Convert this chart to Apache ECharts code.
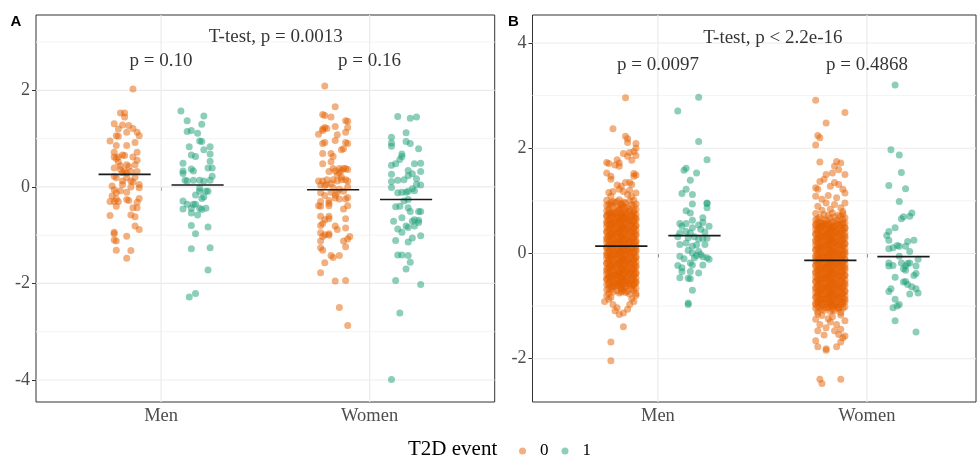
<!DOCTYPE html>
<html><head><meta charset="utf-8">
<script src="https://cdn.jsdelivr.net/npm/echarts@6/dist/echarts.min.js"></script>
<style>html,body{margin:0;padding:0;background:#fff}#c{width:977px;height:457px}</style>
</head><body><div id="c"></div>
<script>
const categories = ['Men', 'Women'];
const groups = ['0', '1'];
const yTicksA = [-4, -2, 0, 2];
const yMinorA = [-3, -1, 1, 3];
const yTicksB = [-2, 0, 2, 4];
const yMinorB = [-1, 1, 3];
const globalTests = ['T-test, p = 0.0013', 'T-test, p < 2.2e-16'];
const pairTestsA = ['p = 0.10', 'p = 0.16'];
const pairTestsB = ['p = 0.0097', 'p = 0.4868'];
const legendTitle = 'T2D event';
const panelTags = ['A', 'B'];
// group means (black bars): [Men, Women]
const meanA0 = [0.26, -0.06];
const meanA1 = [0.04, -0.26];
const meanB0 = [0.14, -0.13];
const meanB1 = [0.34, -0.06];
// points: [jitter in 1/100 category unit, value]
const aMen0 = [[4,2.03],[-2,1.53],[0,1.53],[0,1.45],[-5,1.31],[-1,1.28],[2,1.27],[-3,1.2],[4,1.21],[-4,1.06],[-3,1.05],[1,1.13],[6,1.13],[7,1.06],[-7,0.95],[5,0.92],[-4,0.86],[1,0.86],[-5,0.72],[6,0.72],[-5,0.62],[-4,0.59],[-1,0.66],[0,0.65],[4,0.62],[-3,0.51],[1,0.46],[5,0.46],[6,0.55],[-5,0.39],[-2,0.36],[0,0.33],[3,0.32],[6,0.32],[-5,0.22],[-4,0.19],[-1,0.3],[1,0.29],[1,0.19],[3,0.12],[4,0.1],[7,0.05],[7,-0.02],[-1,0.05],[-5,-0.06],[-4,-0.12],[-2,-0.08],[1,-0.11],[-6,-0.19],[-4,-0.25],[7,-0.24],[-7,-0.3],[-5,-0.3],[-3,-0.3],[1,-0.26],[2,-0.28],[6,-0.32],[-4,-0.4],[4,-0.43],[6,-0.43],[-7,-0.59],[3,-0.58],[5,-0.62],[5,-0.81],[7,-0.88],[-5,-0.94],[-5,-0.97],[1,-1.02],[-5,-1.1],[-4,-1.12],[-4,-1.31],[3,-1.32],[1,-1.48],[-3,0.62],[-2,0.44],[2,0.42],[-6,0.02],[-1,0.12],[3,0.0],[5,0.2]];
const aMen1 = [[-8,1.57],[3,1.47],[-5,1.37],[2,1.3],[-5,1.15],[-3,1.17],[0,1.11],[1,0.95],[2,0.94],[-4,0.83],[6,0.83],[3,0.77],[-3,0.66],[-1,0.63],[6,0.68],[-7,0.49],[6,0.53],[-7,0.33],[-3,0.37],[-2,0.33],[5,0.39],[7,0.39],[-7,0.28],[7,0.22],[-6,0.14],[-5,0.12],[-2,0.14],[1,0.14],[3,0.12],[6,0.14],[1,-0.03],[1,-0.09],[4,-0.09],[5,-0.09],[-1,-0.17],[2,-0.24],[3,-0.21],[-7,-0.29],[-5,-0.36],[-2,-0.36],[-1,-0.36],[-7,-0.46],[-3,-0.44],[1,-0.44],[2,-0.47],[4,-0.44],[-3,-0.54],[0,-0.58],[-3,-0.8],[5,-0.83],[-1,-0.97],[-3,-1.28],[6,-1.26],[5,-1.72],[-4,-2.28],[-1,-2.21]];
const aWomen0 = [[-4,2.09],[1,1.66],[-5,1.5],[-1,1.45],[-4,1.48],[6,1.37],[7,1.36],[-5,1.2],[-4,1.23],[-3,1.21],[1,1.25],[7,1.23],[-7,1.09],[-5,1.17],[2,1.08],[6,1.13],[-5,0.9],[-4,0.92],[1,0.96],[6,0.92],[7,0.9],[5,0.79],[4,0.77],[-5,0.69],[-1,0.69],[0,0.63],[-1,0.52],[-5,0.48],[3,0.38],[5,0.38],[6,0.38],[0,0.38],[7,0.36],[-2,0.32],[1,0.33],[3,0.3],[4,0.34],[-7,0.12],[-5,0.12],[-3,0.15],[0,0.15],[2,0.12],[4,0.15],[6,0.15],[7,0.12],[-6,0.04],[-4,0.03],[-1,0.07],[7,0.0],[-6,-0.12],[-1,-0.11],[2,-0.11],[5,-0.09],[1,-0.23],[3,-0.25],[6,-0.25],[7,-0.22],[-6,-0.3],[-2,-0.28],[-7,-0.39],[-6,-0.4],[-2,-0.34],[-2,-0.39],[5,-0.46],[7,-0.39],[-6,-0.61],[-2,-0.61],[6,-0.66],[-4,-0.68],[-2,-0.66],[-6,-0.8],[-5,-0.76],[1,-0.81],[2,-0.88],[6,-0.85],[-6,-0.95],[-2,-0.97],[-4,-0.99],[8,-1.03],[7,-1.08],[-5,-1.03],[-2,-1.0],[-6,-1.12],[5,-1.12],[6,-1.24],[-6,-1.26],[-5,-1.31],[-1,-1.42],[0,-1.46],[3,-1.42],[-4,-1.57],[-6,-1.78],[1,-1.95],[6,-1.94],[3,-2.5],[7,-2.87],[2,0.25],[4,0.2],[-3,0.05],[0,-0.02],[3,-0.05],[-4,-0.18],[1,-0.17]];
const aWomen1 = [[-4,1.46],[2,1.42],[5,1.45],[0,1.12],[-7,1.03],[-7,0.91],[-7,0.84],[0,0.94],[2,0.9],[6,0.79],[-2,0.68],[-2,0.63],[-3,0.57],[-7,0.45],[-5,0.48],[4,0.48],[7,0.49],[1,0.34],[7,0.32],[-7,0.26],[1,0.23],[3,0.27],[5,0.17],[-7,0.11],[-4,0.14],[-1,0.15],[7,0.04],[5,0.05],[-7,-0.01],[3,-0.04],[4,-0.08],[-4,-0.12],[-2,-0.11],[0,-0.11],[1,-0.09],[-1,-0.29],[1,-0.26],[-5,-0.41],[-3,-0.4],[1,-0.43],[2,-0.51],[7,-0.51],[6,-0.51],[-6,-0.71],[-2,-0.64],[3,-0.71],[4,-0.68],[6,-0.69],[6,-0.74],[-4,-0.87],[1,-0.84],[4,-0.81],[0,-0.81],[-2,-0.94],[3,-1.06],[7,-1.01],[-5,-1.11],[1,-1.14],[-4,-1.41],[-2,-1.41],[1,-1.42],[2,-1.56],[0,-1.7],[-5,-1.94],[7,-2.02],[-3,-2.61],[-7,-3.99]];
const bMen0 = [
[2,2.96],[-4,2.37],[2,2.23],[3,2.18],[3,2.11],[7,2.09],[7,2.0],[6,1.94],[4,1.92],[1,1.9],[3,1.85],[7,1.86],[5,1.77],[-7,1.73],[-6,1.71],[-3,1.68],[-2,1.78],[-1,1.72],[-1,1.66],[-7,1.53],[-5,1.47],[-5,1.41],[6,1.52],[7,1.49],[6,1.47],[2,1.35],[4,1.35],[5,1.31],[-2,1.3],[0,1.28],[-6,1.16],[-4,1.18],[-1,1.22],[1,1.18],[4,1.2],[7,1.15],[-5,1.09],[3,1.12],[5,1.08],
[-8,-0.91],[-6,-0.87],[-4,-0.97],[-2,-1.03],[1,-1.13],[4,-0.97],[6,-0.91],[-3,-1.09],[-1,-1.16],[3,-1.06],[-7,-0.8],[7,-0.8],[-5,-0.83],[5,-0.86],[1,-1.39],[-5,-1.68],[-5,-2.04],
[-7,1.01],[-4,0.99],[-1,1.02],[1,0.98],[4,1.0],[6,1.01],[-2,0.99],
[-6,0.94],[-3,0.97],[0,0.95],[2,0.96],[5,0.93],[7,0.94],[-5,0.97],
[-5,0.91],[-2,0.89],[0,0.92],[3,0.88],[6,0.9],[-7,0.91],[1,0.89],
[-6,0.84],[-4,0.87],[-1,0.85],[2,0.86],[4,0.83],[7,0.84],[0,0.87],
[-7,0.81],[-4,0.79],[-1,0.82],[1,0.78],[4,0.8],[6,0.81],[-2,0.79],
[-6,0.74],[-3,0.77],[0,0.75],[2,0.76],[5,0.73],[7,0.74],[-5,0.77],
[-5,0.71],[-2,0.69],[0,0.72],[3,0.68],[6,0.7],[-7,0.71],[1,0.69],
[-6,0.64],[-4,0.67],[-1,0.65],[2,0.66],[4,0.63],[7,0.64],[0,0.67],
[-7,0.61],[-4,0.59],[-1,0.62],[1,0.58],[4,0.6],[6,0.61],[-2,0.59],
[-6,0.54],[-3,0.57],[0,0.55],[2,0.56],[5,0.53],[7,0.54],[-5,0.57],
[-5,0.51],[-2,0.49],[0,0.52],[3,0.48],[6,0.5],[-7,0.51],[1,0.49],
[-6,0.44],[-4,0.47],[-1,0.45],[2,0.46],[4,0.43],[7,0.44],[0,0.47],
[-7,0.41],[-4,0.39],[-1,0.42],[1,0.38],[4,0.4],[6,0.41],[-2,0.39],
[-6,0.34],[-3,0.37],[0,0.35],[2,0.36],[5,0.33],[7,0.34],[-5,0.37],
[-5,0.31],[-2,0.29],[0,0.32],[3,0.28],[6,0.3],[-7,0.31],[1,0.29],
[-6,0.24],[-4,0.27],[-1,0.25],[2,0.26],[4,0.23],[7,0.24],[0,0.27],
[-7,0.21],[-4,0.19],[-1,0.22],[1,0.18],[4,0.2],[6,0.21],[-2,0.19],
[-6,0.14],[-3,0.17],[0,0.15],[2,0.16],[5,0.13],[7,0.14],[-5,0.17],
[-5,0.11],[-2,0.09],[0,0.12],[3,0.08],[6,0.1],[-7,0.11],[1,0.09],
[-6,0.04],[-4,0.07],[-1,0.05],[2,0.06],[4,0.03],[7,0.04],[0,0.07],
[-7,0.01],[-4,-0.01],[-1,0.02],[1,-0.02],[4,0.0],[6,0.01],[-2,-0.01],
[-6,-0.06],[-3,-0.03],[0,-0.05],[2,-0.04],[5,-0.07],[7,-0.06],[-5,-0.03],
[-5,-0.09],[-2,-0.11],[0,-0.08],[3,-0.12],[6,-0.1],[-7,-0.09],[1,-0.11],
[-6,-0.16],[-4,-0.13],[-1,-0.15],[2,-0.14],[4,-0.17],[7,-0.16],[0,-0.13],
[-7,-0.19],[-4,-0.21],[-1,-0.18],[1,-0.22],[4,-0.2],[6,-0.19],[-2,-0.21],
[-6,-0.26],[-3,-0.23],[0,-0.25],[2,-0.24],[5,-0.27],[7,-0.26],[-5,-0.23],
[-5,-0.29],[-2,-0.31],[0,-0.28],[3,-0.32],[6,-0.3],[-7,-0.29],[1,-0.31],
[-6,-0.36],[-4,-0.33],[-1,-0.35],[2,-0.34],[4,-0.37],[7,-0.36],[0,-0.33],
[-7,-0.39],[-4,-0.41],[-1,-0.38],[1,-0.42],[4,-0.4],[6,-0.39],[-2,-0.41],
[-6,-0.46],[-3,-0.43],[0,-0.45],[2,-0.44],[5,-0.47],[7,-0.46],[-5,-0.43],
[-5,-0.49],[-2,-0.51],[0,-0.48],[3,-0.52],[6,-0.5],[-7,-0.49],[1,-0.51],
[-6,-0.56],[-4,-0.53],[-1,-0.55],[2,-0.54],[4,-0.57],[7,-0.56],[0,-0.53],
[-7,-0.59],[-4,-0.61],[-1,-0.58],[1,-0.62],[4,-0.6],[6,-0.59],[-2,-0.61],
[-6,-0.66],[-3,-0.63],[0,-0.65],[2,-0.64],[5,-0.67],[7,-0.66],[-5,-0.63],
[-5,-0.69],[-2,-0.71],[0,-0.68],[3,-0.72],[6,-0.7],[-7,-0.69],[1,-0.71],
[-6,-0.76],[-4,-0.73],[-1,-0.75],[2,-0.74],[4,-0.77],[7,-0.76],[0,-0.73],
[-6,0.78],[-3,0.76],[0,0.77],[3,0.79],[6,0.77],[-7,0.72],[-4,0.73],[-1,0.71],[2,0.73],[5,0.72],
[-5,0.67],[-2,0.68],[1,0.66],[4,0.68],[7,0.67],[-6,0.62],[-3,0.63],[0,0.61],[3,0.63],[6,0.62],
[-7,0.57],[-4,0.58],[-1,0.56],[2,0.58],[5,0.57],[-5,0.52],[-2,0.53],[1,0.51],[4,0.53],[7,0.52],
[-6,0.47],[-3,0.48],[0,0.46],[3,0.48],[6,0.47],[-7,0.42],[-4,0.43],[-1,0.41],[2,0.43],[5,0.42],
[-5,0.37],[-2,0.38],[1,0.36],[4,0.38],[7,0.37],[-6,0.32],[-3,0.33],[0,0.31],[3,0.33],[6,0.32],
[-7,0.27],[-4,0.28],[-1,0.26],[2,0.28],[5,0.27],[-5,0.22],[-2,0.23],[1,0.21],[4,0.23],[7,0.22],
[-6,0.17],[-3,0.18],[0,0.16],[3,0.18],[6,0.17],[-7,0.12],[-4,0.13],[-1,0.11],[2,0.13],[5,0.12],
[-5,0.07],[-2,0.08],[1,0.06],[4,0.08],[7,0.07],[-6,0.02],[-3,0.03],[0,0.01],[3,0.03],[6,0.02],
[-7,-0.03],[-4,-0.02],[-1,-0.04],[2,-0.02],[5,-0.03],[-5,-0.08],[-2,-0.07],[1,-0.09],[4,-0.07],[7,-0.08],
[-6,-0.13],[-3,-0.12],[0,-0.14],[3,-0.12],[6,-0.13],[-7,-0.18],[-4,-0.17],[-1,-0.19],[2,-0.17],[5,-0.18],
[-5,-0.23],[-2,-0.22],[1,-0.24],[4,-0.22],[7,-0.23],[-6,-0.28],[-3,-0.27],[0,-0.29],[3,-0.27],[6,-0.28],
[-7,-0.33],[-4,-0.32],[-1,-0.34],[2,-0.32],[5,-0.33],[-5,-0.38],[-2,-0.37],[1,-0.39],[4,-0.37],[7,-0.38],
[-6,-0.43],[-3,-0.42],[0,-0.44],[3,-0.42],[6,-0.43],[-7,-0.48],[-4,-0.47],[-1,-0.49],[2,-0.47],[5,-0.48],
[-5,-0.53],[-2,-0.52],[1,-0.54],[4,-0.52],[7,-0.53],[-6,-0.58],[-3,-0.57],[0,-0.59],[3,-0.57],[6,-0.58],
[-4,-0.63],[-1,-0.62],[2,-0.64],[5,-0.62]];
const bMen1 = [[2,2.97],[-8,2.71],[2,2.13],[6,1.78],[-5,1.58],[-4,1.62],[1,1.53],[-2,1.39],[-6,1.14],[-4,1.22],[-1,1.12],[-1,0.94],[6,0.96],[6,0.95],[6,0.87],[-4,0.81],[-2,0.77],[4,0.68],[-1,0.63],[-7,0.57],[-6,0.52],[-4,0.57],[-1,0.49],[2,0.54],[4,0.59],[7,0.52],[-7,0.39],[-4,0.42],[-2,0.39],[3,0.46],[5,0.41],[-8,0.32],[-3,0.3],[0,0.32],[2,0.27],[4,0.29],[6,0.29],[-7,0.17],[-4,0.2],[-1,0.14],[1,0.16],[5,0.17],[-3,0.06],[-1,0.01],[2,0.04],[-7,-0.05],[-5,-0.1],[3,-0.02],[4,-0.06],[6,-0.08],[0,-0.08],[1,-0.04],[-2,-0.18],[-1,-0.22],[7,-0.11],[-8,-0.23],[-6,-0.27],[4,-0.22],[-6,-0.34],[-2,-0.34],[2,-0.37],[-7,-0.46],[-3,-0.47],[-2,-0.48],[-1,-0.7],[-3,-0.97],[-3,-0.94]];
const bWomen0 = [
[-7,2.91],[7,2.68],[-2,2.48],[-6,2.24],[-5,2.2],[-7,2.06],[-5,1.74],[3,1.75],[5,1.72],[2,1.66],[4,1.59],[1,1.53],[-2,1.5],[7,1.5],[-7,1.25],[-5,1.37],[-3,1.41],[-6,1.22],[0,1.28],[2,1.35],[4,1.31],[6,1.22],[7,1.15],[-7,1.09],[-4,1.03],[-1,1.1],[3,1.06],[7,0.96],[-6,0.9],[-2,0.96],[5,0.87],[2,0.93],[-4,0.82],[0,0.84],[6,0.8],
[-7,-1.25],[-5,-1.35],[-2,-1.41],[0,-1.3],[3,-1.35],[5,-1.44],[7,-1.28],[-6,-1.47],[2,-1.47],[4,-1.54],[6,-1.6],[7,-1.57],[-7,-1.66],[-6,-1.77],[-2,-1.81],[-2,-1.84],[3,-1.77],[5,-1.68],[-4,-1.18],[1,-1.2],[5,-1.17],[-1,-1.24],[-6,-1.15],[-3,-1.55],[-5,-2.39],[-4,-2.47],[5,-2.39],
[-7,0.76],[-3,0.74],[1,0.77],[4,0.73],[6,0.75],
[-5,0.69],[-1,0.72],[2,0.7],[5,0.71],[7,0.68],
[-6,0.66],[-3,0.64],[0,0.67],[3,0.63],[6,0.65],[-7,0.64],
[-5,0.59],[-2,0.62],[1,0.6],[4,0.61],[7,0.58],[-4,0.57],
[-7,0.56],[-4,0.54],[-1,0.57],[1,0.53],[4,0.55],[6,0.56],[-2,0.54],
[-6,0.49],[-3,0.52],[0,0.5],[2,0.51],[5,0.48],[7,0.49],[-5,0.52],
[-5,0.46],[-2,0.44],[0,0.47],[3,0.43],[6,0.45],[-7,0.46],[1,0.44],
[-6,0.39],[-4,0.42],[-1,0.4],[2,0.41],[4,0.38],[7,0.39],[0,0.42],
[-7,0.36],[-4,0.34],[-1,0.37],[1,0.33],[4,0.35],[6,0.36],[-2,0.34],
[-6,0.29],[-3,0.32],[0,0.3],[2,0.31],[5,0.28],[7,0.29],[-5,0.32],
[-5,0.26],[-2,0.24],[0,0.27],[3,0.23],[6,0.25],[-7,0.26],[1,0.24],
[-6,0.19],[-4,0.22],[-1,0.2],[2,0.21],[4,0.18],[7,0.19],[0,0.22],
[-7,0.16],[-4,0.14],[-1,0.17],[1,0.13],[4,0.15],[6,0.16],[-2,0.14],
[-6,0.09],[-3,0.12],[0,0.1],[2,0.11],[5,0.08],[7,0.09],[-5,0.12],
[-5,0.06],[-2,0.04],[0,0.07],[3,0.03],[6,0.05],[-7,0.06],[1,0.04],
[-6,-0.01],[-4,0.02],[-1,0.0],[2,0.01],[4,-0.02],[7,-0.01],[0,0.02],
[-7,-0.04],[-4,-0.06],[-1,-0.03],[1,-0.07],[4,-0.05],[6,-0.04],[-2,-0.06],
[-6,-0.11],[-3,-0.08],[0,-0.1],[2,-0.09],[5,-0.12],[7,-0.11],[-5,-0.08],
[-5,-0.14],[-2,-0.16],[0,-0.13],[3,-0.17],[6,-0.15],[-7,-0.14],[1,-0.16],
[-6,-0.21],[-4,-0.18],[-1,-0.2],[2,-0.19],[4,-0.22],[7,-0.21],[0,-0.18],
[-7,-0.24],[-4,-0.26],[-1,-0.23],[1,-0.27],[4,-0.25],[6,-0.24],[-2,-0.26],
[-6,-0.31],[-3,-0.28],[0,-0.3],[2,-0.29],[5,-0.32],[7,-0.31],[-5,-0.28],
[-5,-0.34],[-2,-0.36],[0,-0.33],[3,-0.37],[6,-0.35],[-7,-0.34],[1,-0.36],
[-6,-0.41],[-4,-0.38],[-1,-0.4],[2,-0.39],[4,-0.42],[7,-0.41],[0,-0.38],
[-7,-0.44],[-4,-0.46],[-1,-0.43],[1,-0.47],[4,-0.45],[6,-0.44],[-2,-0.46],
[-6,-0.51],[-3,-0.48],[0,-0.5],[2,-0.49],[5,-0.52],[7,-0.51],[-5,-0.48],
[-5,-0.54],[-2,-0.56],[0,-0.53],[3,-0.57],[6,-0.55],[-7,-0.54],[1,-0.56],
[-6,-0.61],[-4,-0.58],[-1,-0.6],[2,-0.59],[4,-0.62],[7,-0.61],[0,-0.58],
[-7,-0.64],[-4,-0.66],[-1,-0.63],[1,-0.67],[4,-0.65],[6,-0.64],[-2,-0.66],
[-6,-0.71],[-3,-0.68],[0,-0.7],[2,-0.69],[5,-0.72],[7,-0.71],[-5,-0.68],
[-5,-0.74],[-2,-0.76],[0,-0.73],[3,-0.77],[6,-0.75],[-7,-0.74],[1,-0.76],
[-6,-0.81],[-4,-0.78],[-1,-0.8],[2,-0.79],[4,-0.82],[7,-0.81],[0,-0.78],
[-7,-0.84],[-4,-0.86],[-1,-0.83],[1,-0.87],[4,-0.85],[6,-0.84],[-2,-0.86],
[-6,-0.91],[-3,-0.88],[0,-0.9],[2,-0.89],[5,-0.92],[7,-0.91],[-5,-0.88],
[-5,-0.94],[-2,-0.96],[0,-0.93],[3,-0.97],[6,-0.95],[-7,-0.94],[1,-0.96],
[-6,-1.01],[-4,-0.98],[-1,-1.0],[2,-0.99],[4,-1.02],[7,-1.01],[0,-0.98],
[-7,-1.04],[-4,-1.06],[-1,-1.03],[1,-1.07],[4,-1.05],[6,-1.04],
[-6,-1.11],[-3,-1.08],[0,-1.1],[2,-1.09],[5,-1.12],
[-6,0.58],[-3,0.57],[0,0.59],[3,0.57],[6,0.58],[-7,0.53],[-4,0.52],[-1,0.54],[2,0.52],[5,0.53],
[-5,0.48],[-2,0.47],[1,0.49],[4,0.47],[7,0.48],[-6,0.43],[-3,0.42],[0,0.44],[3,0.42],[6,0.43],
[-7,0.38],[-4,0.37],[-1,0.39],[2,0.37],[5,0.38],[-5,0.33],[-2,0.32],[1,0.34],[4,0.32],[7,0.33],
[-6,0.28],[-3,0.27],[0,0.29],[3,0.27],[6,0.28],[-7,0.23],[-4,0.22],[-1,0.24],[2,0.22],[5,0.23],
[-5,0.18],[-2,0.17],[1,0.19],[4,0.17],[7,0.18],[-6,0.13],[-3,0.12],[0,0.14],[3,0.12],[6,0.13],
[-7,0.08],[-4,0.07],[-1,0.09],[2,0.07],[5,0.08],[-5,0.03],[-2,0.02],[1,0.04],[4,0.02],[7,0.03],
[-6,-0.02],[-3,-0.03],[0,-0.01],[3,-0.03],[6,-0.02],[-7,-0.07],[-4,-0.08],[-1,-0.06],[2,-0.08],[5,-0.07],
[-5,-0.12],[-2,-0.13],[1,-0.11],[4,-0.13],[7,-0.12],[-6,-0.17],[-3,-0.18],[0,-0.16],[3,-0.18],[6,-0.17],
[-7,-0.22],[-4,-0.23],[-1,-0.21],[2,-0.23],[5,-0.22],[-5,-0.27],[-2,-0.28],[1,-0.26],[4,-0.28],[7,-0.27],
[-6,-0.32],[-3,-0.33],[0,-0.31],[3,-0.33],[6,-0.32],[-7,-0.37],[-4,-0.38],[-1,-0.36],[2,-0.38],[5,-0.37],
[-5,-0.42],[-2,-0.43],[1,-0.41],[4,-0.43],[7,-0.42],[-6,-0.47],[-3,-0.48],[0,-0.46],[3,-0.48],[6,-0.47],
[-7,-0.52],[-4,-0.53],[-1,-0.51],[2,-0.53],[5,-0.52],[-5,-0.57],[-2,-0.58],[1,-0.56],[4,-0.58],[7,-0.57],
[-6,-0.62],[-3,-0.63],[0,-0.61],[3,-0.63],[6,-0.62],[-7,-0.67],[-4,-0.68],[-1,-0.66],[2,-0.68],[5,-0.67],
[-5,-0.72],[-2,-0.73],[1,-0.71],[4,-0.73],[7,-0.72],[-6,-0.77],[-3,-0.78],[0,-0.76],[3,-0.78],[6,-0.77],
[-7,-0.82],[-4,-0.83],[-1,-0.81],[2,-0.83],[5,-0.82],[-5,-0.87],[-2,-0.88],[1,-0.86],[4,-0.88],[7,-0.87],
[-6,-0.92],[-3,-0.93],[0,-0.91],[3,-0.93],[6,-0.92],[-7,-0.97],[-4,-0.98],[-1,-0.96],[2,-0.98],[5,-0.97],
[-5,-1.02],[-2,-1.03],[1,-1.01],[4,-1.03]];
const bWomen1 = [[-4,3.2],[-6,1.97],[-2,1.87],[-1,1.54],[-7,1.29],[1,1.23],[-2,0.99],[4,0.77],[3,0.71],[-1,0.66],[0,0.7],[-4,0.49],[-7,0.42],[-8,0.34],[-7,0.25],[2,0.23],[5,0.25],[-3,0.15],[-2,0.14],[1,0.14],[-7,0.09],[-5,0.11],[3,0.04],[-2,-0.05],[-7,-0.18],[-7,-0.24],[-5,-0.23],[-1,-0.18],[1,-0.24],[2,-0.19],[3,-0.18],[7,-0.11],[6,-0.24],[0,-0.29],[1,-0.32],[6,-0.38],[5,-0.42],[-4,-0.45],[0,-0.54],[1,-0.53],[2,-0.59],[4,-0.63],[6,-0.67],[-7,-0.72],[-6,-0.67],[3,-0.77],[7,-0.75],[-4,-0.87],[-5,-1.03],[-3,-1.0],[-2,-0.97],[-4,-1.28],[6,-1.49]];

const COLORS = ['#E66101', '#1B9E77'];
const DODGE = 0.175, HALF = 0.125, ALPHA = 0.5;
const SERIF = '"Liberation Serif", "Times New Roman", serif';

const panels = [
  { grid: { left: 36, top: 15, width: 458.7, height: 387 }, xmax: 2.6, ymin: -4.456, ymax: 3.561,
    ticks: yTicksA, minor: yMinorA, pts: [[aMen0, aWomen0], [aMen1, aWomen1]], means: [meanA0, meanA1],
    global: globalTests[0], pairs: pairTestsA, gy: 3.10, py: 2.60 },
  { grid: { left: 532.5, top: 15, width: 443.5, height: 387 }, xmax: 2.522, ymin: -2.822, ymax: 4.532,
    ticks: yTicksB, minor: yMinorB, pts: [[bMen0, bWomen0], [bMen1, bWomen1]], means: [meanB0, meanB1],
    global: globalTests[1], pairs: pairTestsB, gy: 4.10, py: 3.59 }
];

const grids = [], xAxes = [], yAxes = [], series = [];
panels.forEach((p, i) => {
  grids.push(Object.assign({ show: true, borderColor: '#333333', borderWidth: 1, backgroundColor: '#fff', outerBoundsMode: 'none' }, p.grid));
  xAxes.push({ type: 'value', gridIndex: i, min: 0.4, max: p.xmax,
    axisLine: { show: false }, splitLine: { show: false },
    axisTick: { show: true, customValues: [1, 2], length: 4, lineStyle: { color: '#333333' } },
    axisLabel: { customValues: [1, 2], formatter: v => categories[Math.round(v) - 1], color: '#4D4D4D', fontSize: 18.5, fontFamily: SERIF, margin: 5 } });
  yAxes.push({ type: 'value', gridIndex: i, min: p.ymin, max: p.ymax,
    axisLine: { show: false }, splitLine: { show: false },
    axisTick: { show: true, customValues: p.ticks, length: 4, lineStyle: { color: '#333333' } },
    axisLabel: { customValues: p.ticks, color: '#4D4D4D', fontSize: 18, fontFamily: SERIF, margin: 6 } });
  // grid lines as line series spanning the axis extent (under the points)
  const addLine = (data, color, width) => series.push({ type: 'line', name: 'gridline', xAxisIndex: i, yAxisIndex: i, z: 1, silent: true,
    data, symbol: 'none', lineStyle: { color, width }, animation: false });
  p.minor.forEach(v => addLine([[0.4, v], [p.xmax, v]], '#F3F3F3', 1));
  p.ticks.forEach(v => addLine([[0.4, v], [p.xmax, v]], '#EBEBEB', 1.2));
  [1, 2].forEach(v => addLine([[v, p.ymin], [v, p.ymax]], '#EBEBEB', 1.2));
  // points
  [0, 1].forEach(g => {
    const side = g === 0 ? -1 : 1;
    const data = [];
    p.pts[g].forEach((arr, c) => arr.forEach(([j, v]) => data.push([c + 1 + side * DODGE + j / 100, v])));
    series.push({ type: 'scatter', name: groups[g], xAxisIndex: i, yAxisIndex: i, data, z: 2,
      symbol: 'circle', symbolSize: 7, itemStyle: { color: COLORS[g], opacity: ALPHA }, silent: true, large: false, progressive: 0 });
  });
  // mean bars
  [0, 1].forEach(g => {
    const side = g === 0 ? -1 : 1;
    p.means[g].forEach((m, c) => {
      const cx = c + 1 + side * DODGE;
      series.push({ type: 'line', name: 'mean', xAxisIndex: i, yAxisIndex: i, z: 3, silent: true,
        data: [[cx - HALF, m], [cx + HALF, m]], symbol: 'none', lineStyle: { color: '#1a1a1a', width: 1.6 } });
    });
  });
  // annotations
  const ann = [{ value: [1.55, p.gy], name: p.global }, { value: [1, p.py], name: p.pairs[0] }, { value: [2, p.py], name: p.pairs[1] }];
  series.push({ type: 'scatter', name: 'ann', xAxisIndex: i, yAxisIndex: i, z: 4, silent: true, symbolSize: 1,
    itemStyle: { color: 'rgba(0,0,0,0)' }, data: ann,
    label: { show: true, position: 'inside', formatter: d => d.name, color: '#000', fontSize: 19, fontFamily: SERIF } });
});

const chart = echarts.init(document.getElementById('c'), null, { renderer: 'canvas' });
chart.setOption({
  animation: false,
  backgroundColor: '#fff',
  grid: grids, xAxis: xAxes, yAxis: yAxes, series,
  legend: { data: groups, left: 514, top: 437.5, icon: 'circle', itemWidth: 7, itemHeight: 7, itemGap: 13,
    selectedMode: false, textStyle: { fontFamily: SERIF, fontSize: 17, color: '#000', padding: [0, 0, 0, 9] } },
  graphic: [
    { type: 'text', x: 408, y: 449, style: { text: legendTitle, fontSize: 21, fontFamily: SERIF, fill: '#000', verticalAlign: 'middle' } },
    { type: 'text', x: 10.5, y: 21.5, style: { text: panelTags[0], fontSize: 15, fontWeight: 'bold', fontFamily: '"Liberation Sans", Arial, sans-serif', fill: '#000', verticalAlign: 'middle' } },
    { type: 'text', x: 508, y: 21.5, style: { text: panelTags[1], fontSize: 15, fontWeight: 'bold', fontFamily: '"Liberation Sans", Arial, sans-serif', fill: '#000', verticalAlign: 'middle' } }
  ]
});
</script></body></html>
